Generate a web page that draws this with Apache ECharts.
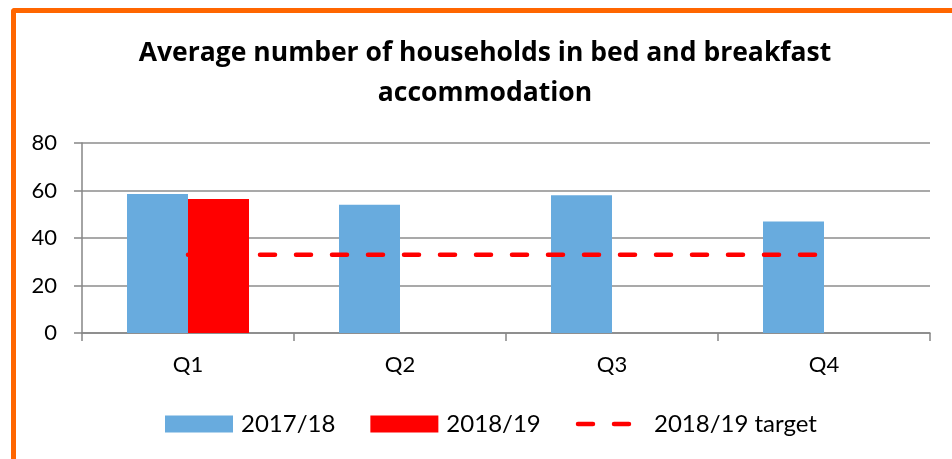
<!DOCTYPE html>
<html>
<head>
<meta charset="utf-8">
<script src="https://cdn.jsdelivr.net/npm/echarts@6/dist/echarts.min.js"></script>
<style>
  body { margin: 0; background: #fff; }
  #frame {
    position: absolute; left: 11px; top: 8px; width: 941px; height: 451px;
    border-left: 5px solid #FF6600; border-top: 5px solid #FF6600;
    border-top-left-radius: 4px; box-sizing: border-box;
  }
  #chart { position: absolute; left: 0; top: 0; width: 952px; height: 459px; }
</style>
</head>
<body>
<div id="frame"></div>
<div id="chart"></div>
<script>
// chart data
var quarters = ['Q1', 'Q2', 'Q3', 'Q4'];
var values1718 = [58.5, 54, 58, 47];
var values1819 = [56.4, null, null, null];
var target1819 = [33, 33, 33, 33];
var seriesNames = ['2017/18', '2018/19', '2018/19 target'];

var chartDom = document.getElementById('chart');
var myChart = echarts.init(chartDom);
var option;

var FONT = 'Lato';
var targetLine = { color: '#FF0000', width: 4.5, type: [15, 21], cap: 'round' };

option = {
  animation: false,
  title: {
    text: 'Average number of households in bed and breakfast\naccommodation',
    left: 485,
    top: 33,
    padding: 0,
    textAlign: 'center',
    textStyle: {
      fontFamily: 'Open Sans',
      fontWeight: 'bold',
      fontSize: 26.5,
      lineHeight: 40,
      color: '#000'
    }
  },
  legend: {
    left: 165,
    top: 412,
    padding: 0,
    itemWidth: 68,
    itemHeight: 17,
    itemGap: 35,
    data: [
      { name: seriesNames[0], icon: 'rect' },
      { name: seriesNames[1], icon: 'rect' },
      {
        name: seriesNames[2],
        itemStyle: { color: 'rgba(0,0,0,0)', borderWidth: 0 },
        lineStyle: targetLine
      }
    ],
    textStyle: {
      fontFamily: FONT,
      fontSize: 24,
      color: '#000',
      padding: [0, 0, 0, 3]
    }
  },
  grid: {
    left: 82,
    right: 22,
    top: 143,
    bottom: 126
  },
  xAxis: {
    type: 'category',
    data: quarters,
    axisLine: { lineStyle: { color: '#868686', width: 1.5 } },
    axisTick: { show: true, length: 8, lineStyle: { color: '#868686', width: 1.5 } },
    axisLabel: { margin: 21, fontFamily: FONT, fontSize: 22, color: '#000' }
  },
  yAxis: {
    type: 'value',
    min: 0,
    max: 80,
    interval: 20,
    axisLine: { show: true, lineStyle: { color: '#868686', width: 1.5 } },
    axisTick: { show: true, length: 8, lineStyle: { color: '#868686', width: 1.5 } },
    splitLine: { lineStyle: { color: '#8c8c8c', width: 1.5 } },
    axisLabel: { margin: 25, fontFamily: FONT, fontSize: 22, color: '#000' }
  },
  series: [
    {
      name: seriesNames[0],
      type: 'bar',
      data: values1718,
      barWidth: 61,
      barGap: '0%',
      itemStyle: { color: '#68ABDE' }
    },
    {
      name: seriesNames[1],
      type: 'bar',
      data: values1819,
      barWidth: 61,
      barGap: '0%',
      itemStyle: { color: '#FF0000' }
    },
    {
      name: seriesNames[2],
      type: 'line',
      data: target1819,
      symbol: 'none',
      z: 5,
      lineStyle: targetLine,
      itemStyle: { color: '#FF0000' }
    }
  ]
};

option && myChart.setOption(option);
</script>
</body>
</html>
